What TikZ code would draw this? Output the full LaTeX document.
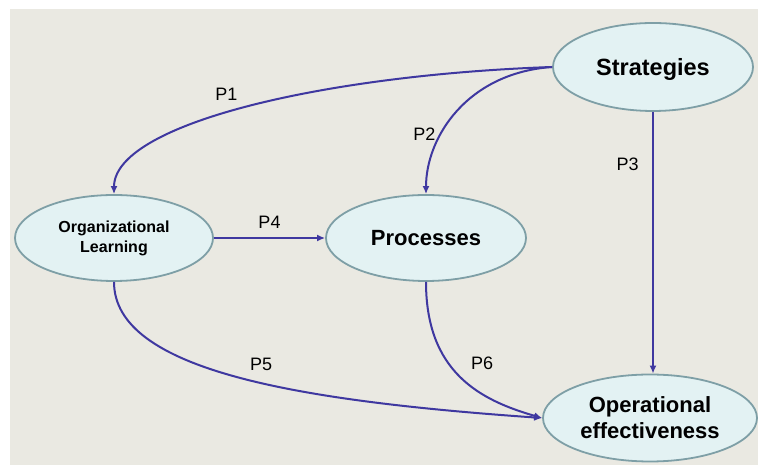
\documentclass[tikz,border=0pt]{standalone}
\usepackage{fontspec}
\setmainfont{Liberation Sans}
\usepackage{tikz}
\usetikzlibrary{arrows.meta,shapes.geometric}

\definecolor{bgcol}{HTML}{EAE9E2}
\definecolor{nodefill}{HTML}{E3F2F3}
\definecolor{nodeline}{HTML}{7E9FA6}
\definecolor{linkcol}{HTML}{3F38A0}

\begin{document}
\begin{tikzpicture}[x=1pt,y=1pt,node distance=312pt,
                    main node/.style={ellipse,draw=nodeline,fill=nodefill,line width=1.8pt,
                                      inner sep=0pt,align=center,font=\bfseries\fontsize{22}{26}\selectfont},
                    link/.style={draw=linkcol,line width=2pt,-{Latex[length=8pt,width=7pt]}},
                    plabel/.style={font=\fontsize{18}{20}\selectfont,text=black}]
  \useasboundingbox (0,0) rectangle (758,465);
  \fill[white] (0,0) rectangle (758,465);
  \fill[bgcol] (10,0) rectangle (758,456);

  %nodes%
  \node[main node,minimum width=198pt,minimum height=86pt,
        font=\bfseries\fontsize{16}{20}\selectfont] (1) at (114,227) {Organizational\\Learning};
  \node[main node,minimum width=200pt,minimum height=86pt] (2) [right of=1] {Processes};
  \node[main node,minimum width=200pt,minimum height=88pt,text depth=0pt,
        font=\bfseries\fontsize{23.5}{26}\selectfont] (3) at (653,398) {Strategies};
  \node[main node,minimum width=214pt,minimum height=87pt] (4) at (650,47) {Operational\\effectiveness};

  \path[every edge/.style={link},every node/.style={plabel}]
    (3.west) edge[out=182,in=90,out distance=230pt,in distance=70pt]
                 node[pos=0.55,above=9pt,xshift=3pt] {P1} (1.north)
             edge[out=184,in=90,out distance=85pt,in distance=57pt]
                 node[pos=0.65,xshift=-17pt] {P2} (2.north)
    (3.south) edge node[pos=0.2,left=10pt] {P3} (3.south |- 4.north)
    (1) edge node[above=5pt] {P4} (2)
    (1.south) edge[out=270,in=176,out distance=89pt,in distance=243pt]
                 node[pos=0.55,above=8pt] {P5} (4.west)
    (2.south) edge[out=270,in=164,out distance=90pt,in distance=65pt]
                 node[pos=0.4,right=18pt] {P6} (4.west);
\end{tikzpicture}
\end{document}
